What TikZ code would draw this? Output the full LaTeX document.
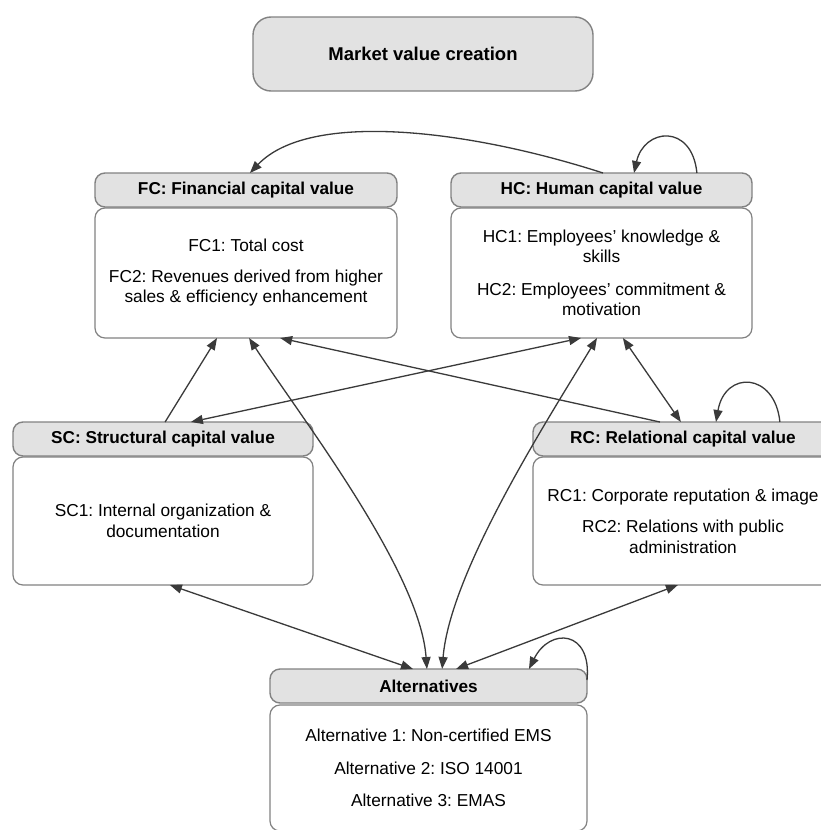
\documentclass[tikz,border=0pt]{standalone}
\usepackage{fontspec}
\setmainfont{Liberation Sans}
\usetikzlibrary{arrows.meta,calc}
\definecolor{hdrfill}{HTML}{E2E2E2}
\definecolor{boxline}{HTML}{828282}
\definecolor{arr}{HTML}{3A3A3A}
\frenchspacing
\begin{document}
\begin{tikzpicture}[x=1pt,y=-1pt,
  hdr/.style={draw=boxline, line width=1.4pt, fill=hdrfill, rounded corners=10pt,
    inner sep=0pt, outer sep=0pt, anchor=north west,
    font=\fontsize{17.2}{20}\selectfont\bfseries, minimum height=34pt},
  bodybox/.style={draw=boxline, line width=1.2pt, fill=white, rounded corners=10pt,
    inner sep=0pt, outer sep=0pt, anchor=north west, align=center,
    font=\fontsize{17.3}{20.5}\selectfont},
  conn/.style={draw=arr, line width=1.3pt, -{Triangle[length=12pt,width=9pt]}},
  biconn/.style={draw=arr, line width=1.3pt,
    {Triangle[length=12pt,width=9pt]}-{Triangle[length=12pt,width=9pt]}},
]
\useasboundingbox[fill=white] (0,0) rectangle (821,830);

% boxes
\node[hdr, minimum width=340pt, minimum height=74pt, rounded corners=18pt,
      font=\fontsize{18.5}{22}\selectfont\bfseries] (mvc) at (253,17) {Market value creation};

\node[hdr, minimum width=302pt] (fch) at (95,173) {FC: Financial capital value};
\node[bodybox, minimum width=302pt, minimum height=130pt] (fcb) at (95,208)
  {FC1: Total cost\\[10pt]FC2: Revenues derived from higher\\sales \& efficiency enhancement};

\node[hdr, minimum width=301pt] (hch) at (451,173) {HC: Human capital value};
\node[bodybox, minimum width=301pt, minimum height=130pt] (hcb) at (451,208)
  {HC1: Employees’ knowledge \&\\skills\\[12pt]HC2: Employees’ commitment \&\\motivation};

\node[hdr, minimum width=300pt] (sch) at (13,422) {SC: Structural capital value};
\node[bodybox, minimum width=300pt, minimum height=128pt] (scb) at (13,457)
  {SC1: Internal organization \&\\documentation};

\node[hdr, minimum width=300pt] (rch) at (533,422) {RC: Relational capital value};
\node[bodybox, minimum width=300pt, minimum height=128pt] (rcb) at (533,457)
  {RC1: Corporate reputation \& image\\[11pt]RC2: Relations with public\\administration};

\node[hdr, minimum width=317pt] (alth) at (270,669) {Alternatives};
\node[bodybox, minimum width=317pt, minimum height=126pt] (altb) at (270,705)
  {Alternative 1: Non-certified EMS\\[12pt]Alternative 2: ISO 14001\\[12pt]Alternative 3: EMAS};

% connectors
\draw[conn] ($(hch.north west)!0.505!(hch.north east)$)
  .. controls +(-133,-43) and +(60,-63) .. ($(fch.north west)!0.513!(fch.north east)$);
\draw[conn] ($(hch.north west)!0.817!(hch.north east)$)
  .. controls +(-5,-50) and +(10,-45) .. ($(hch.north west)!0.608!(hch.north east)$);

\draw[conn] ($(sch.north west)!0.507!(sch.north east)$) -- ($(fcb.south west)!0.404!(fcb.south east)$);
\draw[biconn] ($(hcb.south west)!0.432!(hcb.south east)$) -- ($(sch.north west)!0.593!(sch.north east)$);
\draw[conn] ($(rch.north west)!0.423!(rch.north east)$) -- ($(fcb.south west)!0.613!(fcb.south east)$);
\draw[biconn] ($(hcb.south west)!0.571!(hcb.south east)$) -- ($(rch.north west)!0.493!(rch.north east)$);
\draw[conn] ($(rch.north west)!0.823!(rch.north east)$)
  .. controls +(-5,-50) and +(9,-52) .. ($(rch.north west)!0.61!(rch.north east)$);

\draw[biconn] ($(fcb.south west)!0.51!(fcb.south east)$)
  .. controls +(51,78) and +(-7,-98) .. ($(alth.north west)!0.495!(alth.north east)$);
\draw[biconn] ($(hcb.south west)!0.485!(hcb.south east)$)
  .. controls +(-47,78) and +(8,-98) .. ($(alth.north west)!0.543!(alth.north east)$);

\draw[biconn] ($(scb.south west)!0.523!(scb.south east)$) -- ($(alth.north west)!0.451!(alth.north east)$);
\draw[biconn] ($(rcb.south west)!0.483!(rcb.south east)$) -- ($(alth.north west)!0.587!(alth.north east)$);
\draw[conn] ($(alth.north east)+(0,11)$)
  .. controls +(5,-50) and +(21,-42) .. ($(alth.north west)!0.817!(alth.north east)$);
\end{tikzpicture}
\end{document}
